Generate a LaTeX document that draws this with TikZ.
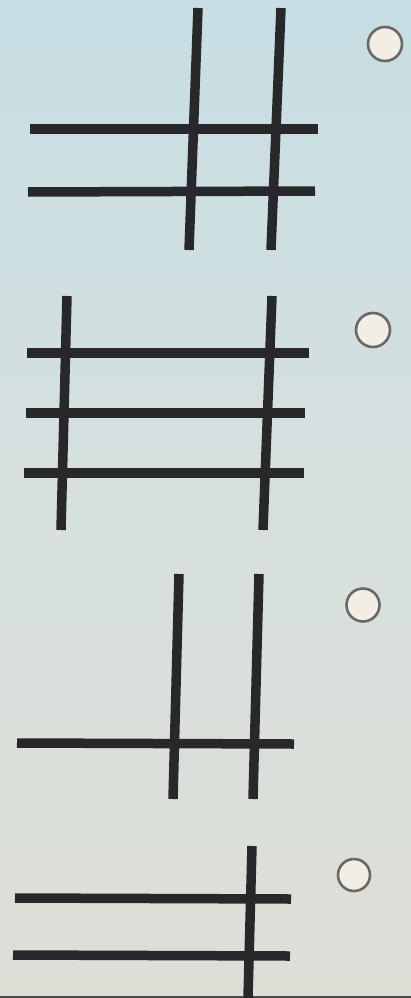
\documentclass[tikz,border=0pt]{standalone}
\begin{document}
\begin{tikzpicture}[x=1pt,y=-1pt,
  bar/.style={line width=9.5pt,draw=barcol,line cap=butt},
  radio/.style={line width=2.6pt,draw=radiocol,fill=radiofill}]
\definecolor{barcol}{RGB}{40,40,42}
\definecolor{radiocol}{RGB}{105,105,102}
\definecolor{radiofill}{RGB}{242,238,228}
\definecolor{bgtop}{RGB}{198,222,228}
\definecolor{bgmid}{RGB}{214,224,222}
\definecolor{bgbot}{RGB}{222,222,214}
\useasboundingbox (0,0) rectangle (411,998);
\shade[top color=bgtop,bottom color=bgmid] (0,0) rectangle (411,500);
\shade[top color=bgmid,bottom color=bgbot] (0,500) rectangle (411,998);
\fill[black!70] (0,996) rectangle (411,998);
% figure 1
\draw[bar] (198,8) -- (189,250);
\draw[bar] (281,8) -- (271,250);
\draw[bar] (30,129) -- (318,129);
\draw[bar] (28,192) -- (315,191);
\draw[radio] (385,44) circle (17);
% figure 2
\draw[bar] (67,296) -- (61,530);
\draw[bar] (272,296) -- (263,530);
\draw[bar] (27,353) -- (309,353);
\draw[bar] (26,413) -- (305,413);
\draw[bar] (24,473) -- (304,473);
\draw[radio] (373,330) circle (17);
% figure 3
\draw[bar] (179,574) -- (173,799);
\draw[bar] (259,574) -- (253,799);
\draw[bar] (17,743) -- (294,744);
\draw[radio] (363,605) circle (16.5);
% figure 4
\draw[bar] (252,846) -- (248,998);
\draw[bar] (15,898) -- (291,899);
\draw[bar] (13,955) -- (290,956);
\draw[radio] (354,875) circle (16);
\end{tikzpicture}
\end{document}
